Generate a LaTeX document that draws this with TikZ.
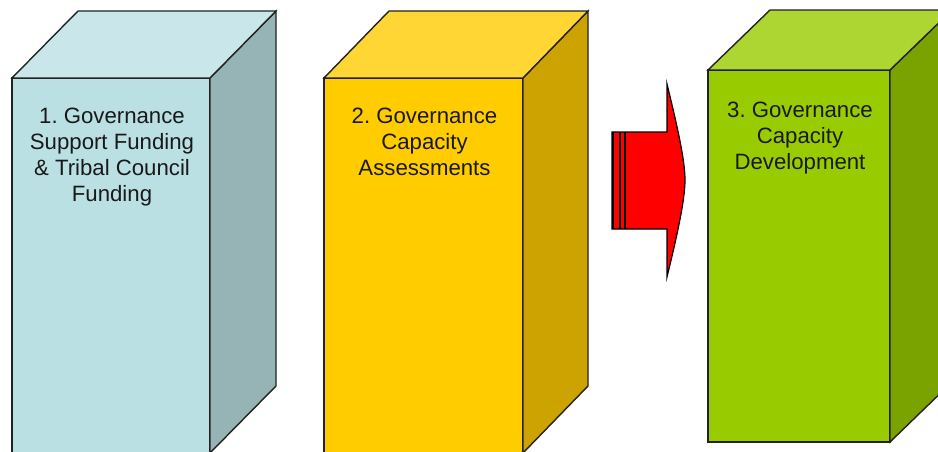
\documentclass[tikz,border=0pt]{standalone}
\usepackage{fontspec}
\setmainfont{Liberation Sans}
\frenchspacing
\definecolor{bAf}{HTML}{BBE0E4}
\definecolor{bAt}{HTML}{C9E7EA}
\definecolor{bAs}{HTML}{96B3B6}
\definecolor{bBf}{HTML}{FFCC00}
\definecolor{bBt}{HTML}{FFD633}
\definecolor{bBs}{HTML}{CCA300}
\definecolor{bCf}{HTML}{99CC00}
\definecolor{bCt}{HTML}{ADD633}
\definecolor{bCs}{HTML}{7AA300}
\definecolor{edgec}{HTML}{222222}
\begin{document}
\begin{tikzpicture}[x=1pt,y=-1pt,
  edge/.style={draw=edgec, line width=1.4pt, line join=miter},
  front/.style={edge, inner sep=0pt, outer sep=0pt, anchor=north west},
  lbl/.style={font=\fontsize{22.2}{26}\selectfont\frenchspacing, align=center, text=black!90, anchor=north, inner sep=0pt}]
\useasboundingbox (0,0) rectangle (938,452);
% ---- box 1
\node[front, fill=bAf, minimum width=198pt, minimum height=375pt] (f1) at (12,78) {};
\filldraw[edge, fill=bAs] (f1.north east) -- ++(66,-67) -- ++(0,375) -- (f1.south east) -- cycle;
\filldraw[edge, fill=bAt] (f1.north west) -- ++(66,-67) -- ++(198,0) -- (f1.north east) -- cycle;
\node[lbl] (t1) at (112,108) {1. Governance\\Support Funding\\\& Tribal Council\\Funding};
% ---- box 2
\node[front, fill=bBf, minimum width=199pt, minimum height=375pt] (f2) at (324,78) {};
\filldraw[edge, fill=bBs] (f2.north east) -- ++(65,-67) -- ++(0,375) -- (f2.south east) -- cycle;
\filldraw[edge, fill=bBt] (f2.north west) -- ++(65,-67) -- ++(199,0) -- (f2.north east) -- cycle;
\node[lbl] (t2) at (424.5,108) {2. Governance\\Capacity\\Assessments};
% ---- box 3
\node[front, fill=bCf, minimum width=182pt, minimum height=372pt] (f3) at (708,70) {};
\filldraw[edge, fill=bCs] (f3.north east) -- ++(62,-60) -- ++(0,372) -- (f3.south east) -- cycle;
\filldraw[edge, fill=bCt] (f3.north west) -- ++(62,-60) -- ++(182,0) -- (f3.north east) -- cycle;
\node[lbl] (t3) at (800,102) {3. Governance\\Capacity\\Development};
% ---- arrow
\coordinate (aTL) at (612,132);
\coordinate (aBL) at (612,229);
\coordinate (aST) at (667,132);
\coordinate (aSB) at (667,229);
\coordinate (hT) at (667,84);
\coordinate (hB) at (667,277);
\coordinate (tip) at (685,180);
\filldraw[fill=red, draw=black, line width=1.2pt, line join=miter]
  (aTL) -- (aST) -- (hT) .. controls (677,125) and (685,160) .. (tip)
  .. controls (685,200) and (677,236) .. (hB) -- (aSB) -- (aBL) -- cycle;
\draw[line width=2.2pt] ([xshift=1pt]aTL) -- ([xshift=1pt]aBL);
\draw[line width=2.2pt] ([xshift=8pt]aTL) -- ([xshift=8pt]aBL);
\draw[line width=2.6pt] ([xshift=13pt]aTL) -- ([xshift=13pt]aBL);
\end{tikzpicture}
\end{document}
